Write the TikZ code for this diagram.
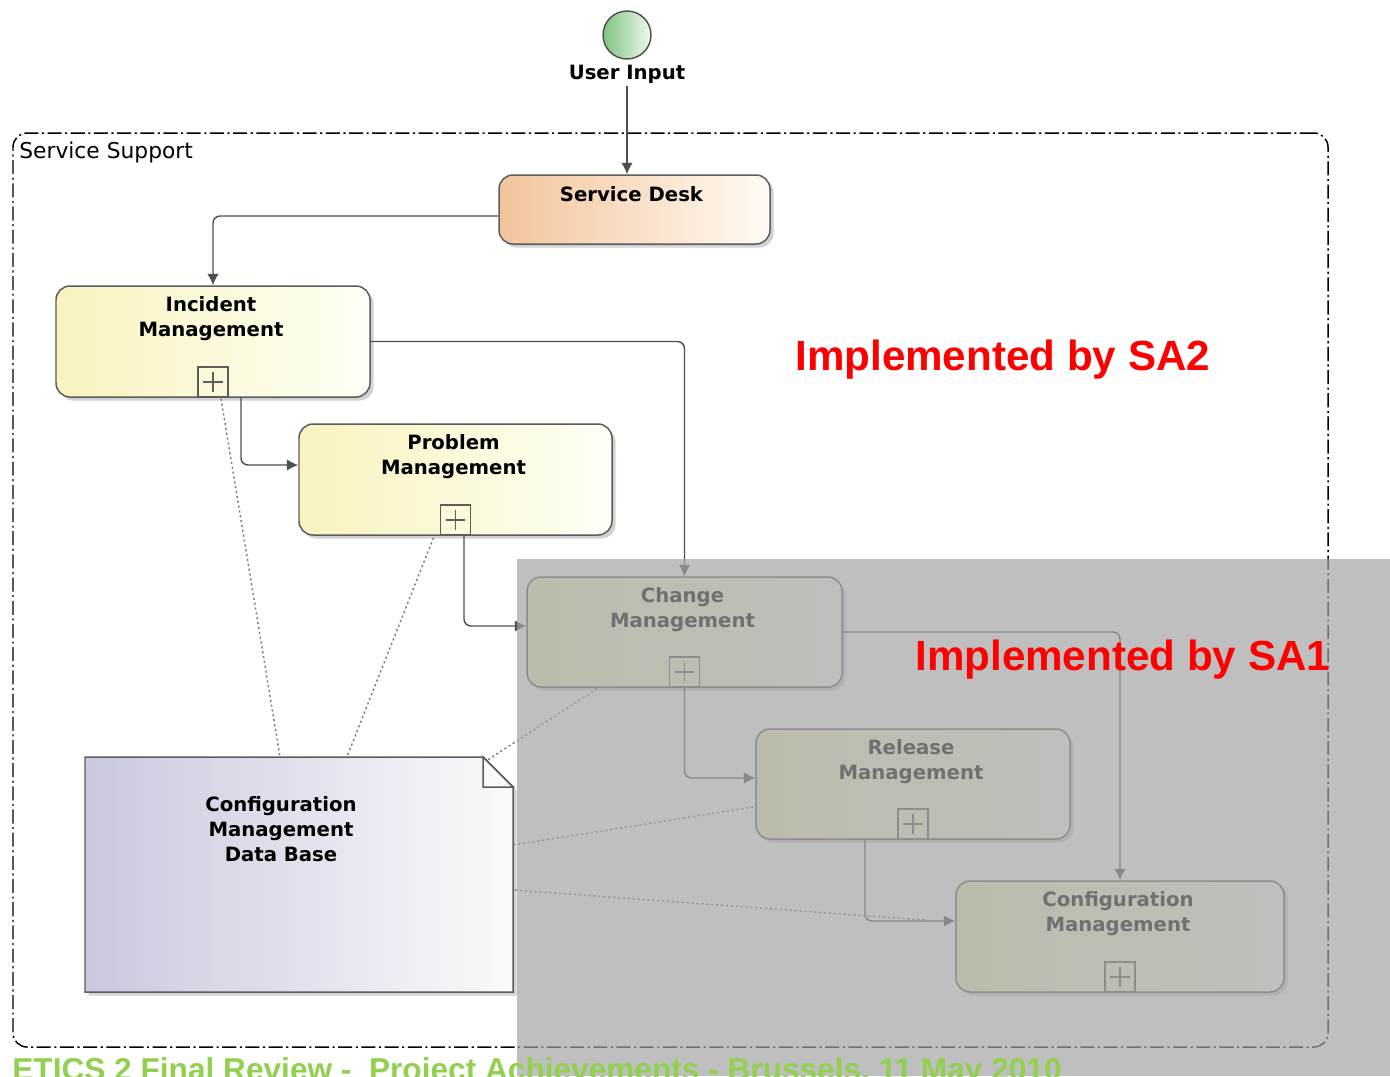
\documentclass[tikz,border=0pt]{standalone}
\usepackage{fontspec}
\setmainfont{Liberation Sans}
\newfontfamily\dejavu{DejaVu Sans}
\usetikzlibrary{fit,calc,arrows.meta,shadows}
\definecolor{linec}{HTML}{4F4F4F}
\definecolor{borderc}{HTML}{5C5C5C}
\definecolor{sdL}{HTML}{F2C49C}
\definecolor{sdR}{HTML}{FFFBF4}
\definecolor{ymL}{HTML}{F8F3BE}
\definecolor{ymR}{HTML}{FFFFF6}
\definecolor{dbL}{HTML}{C9C9DE}
\definecolor{dbR}{HTML}{FAFAFC}
\definecolor{startL}{HTML}{7FC47F}
\definecolor{startR}{HTML}{EEF8EE}
\definecolor{ovc}{RGB}{163,163,163}
\definecolor{ecgreen}{HTML}{92D050}
\definecolor{sared}{HTML}{FF0000}
\definecolor{assocc}{HTML}{7A7A7A}
\begin{document}
\begin{tikzpicture}[x=0.02cm,y=-0.02cm,
  procbox/.style={draw=borderc, line width=0.85pt, rounded corners=8pt, inner sep=0pt,
     left color=ymL, right color=ymR,
     drop shadow={shadow xshift=2pt, shadow yshift=-2pt, opacity=0.35}},
  boxtext/.style={font=\dejavu\bfseries\fontsize{11.2}{14.2}\selectfont, align=center, inner sep=0pt, anchor=north},
  plusbox/.style={draw=borderc, line width=0.8pt, minimum size=17pt, inner sep=0pt, anchor=south,
     path picture={\draw[borderc, line width=0.9pt]
        ([xshift=-5.5pt]path picture bounding box.center) -- ([xshift=5.5pt]path picture bounding box.center)
        ([yshift=-5.5pt]path picture bounding box.center) -- ([yshift=5.5pt]path picture bounding box.center);}},
  flow/.style={draw=linec, line width=0.8pt, rounded corners=4pt, -{Latex[length=6.5pt,width=6.5pt]}},
  assoc/.style={draw=assocc, line width=0.8pt, dash pattern=on 1.2pt off 1.6pt},
  redtext/.style={font=\bfseries\fontsize{24}{28}\selectfont, text=sared, inner sep=0pt, anchor=base west},
  startc/.style={circle, draw=gray!60!black, line width=0.8pt, minimum size=0.96cm, inner sep=0pt,
     left color=startL, right color=startR},
  framec/.style={draw=black, line width=0.85pt, dash pattern=on 8pt off 2pt on 1.2pt off 2pt,
     rounded corners=8pt, inner sep=0pt},
]
\useasboundingbox (0,0) rectangle (1390,1076);
\clip (0,0) rectangle (1390,1076);
\fill[white] (0,0) rectangle (1390,1076);

% frame
\node[framec, fit={(13,133) (1328,1047)}] (frame) {};
\node[font=\dejavu\fontsize{12.4}{14}\selectfont, anchor=west, inner sep=0pt] (sslabel) at (19,152) {Service Support};

% start
\node[startc] (start) at (627,35) {};
\node[font=\dejavu\bfseries\fontsize{11.2}{13}\selectfont, anchor=base, inner sep=0pt] (ui) at (627,79) {User Input};

% boxes
\node[procbox, left color=sdL, right color=sdR, fit={(499,175) (770,244)}] (sd) {};
\node[procbox, fit={(56,286) (370,397)}] (inc) {};
\node[procbox, fit={(299,424) (612,535)}] (prob) {};
\node[procbox, fit={(527,577) (842,687)}] (chg) {};
\node[procbox, fit={(756,729) (1070,839)}] (rel) {};
\node[procbox, fit={(956,881) (1284,992)}] (cfg) {};

\node[boxtext] (sd-t) at ($(sd.north)+(-3,12)$) {Service Desk};
\node[boxtext] (inc-t) at ($(inc.north)+(-2,11)$) {Incident\\Management};
\node[boxtext] (prob-t) at ($(prob.north)+(-2,11)$) {Problem\\Management};
\node[boxtext] (chg-t) at ($(chg.north)+(-2,11)$) {Change\\Management};
\node[boxtext] (rel-t) at ($(rel.north)+(-2,11)$) {Release\\Management};
\node[boxtext] (cfg-t) at ($(cfg.north)+(-2,11)$) {Configuration\\Management};

\node[plusbox] (inc-p) at (inc.south) {};
\node[plusbox] (prob-p) at (prob.south) {};
\node[plusbox] (chg-p) at (chg.south) {};
\node[plusbox] (rel-p) at (rel.south) {};
\node[plusbox] (cfg-p) at (cfg.south) {};

% CMDB note
\path[draw=borderc, line width=0.85pt, left color=dbL, right color=dbR,
      drop shadow={shadow xshift=2pt, shadow yshift=-2pt, opacity=0.35}]
  (85,757) -- (483,757) -- (513,787) -- (513,992) -- (85,992) -- cycle;
\draw[draw=borderc, line width=0.85pt, fill=white!92!dbL] (483,757) -- (483,787) -- (513,787) -- cycle;
\node[fit={(85,757) (513,992)}, inner sep=0pt] (cmdb) {};
\node[boxtext] (cmdb-t) at ($(cmdb.north)+(-18,40)$) {Configuration\\Management\\Data Base};

% flows
\draw[flow] ($(ui.south)+(0,3)$) -- (ui.south |- sd.north);
\draw[flow] ($(sd.west)+(0,6.5)$) -| (inc.north);
\draw[flow] (inc.east) -| (chg.north);
\draw[flow] ($(inc.south)+(28,0)$) |- ($(prob.west)+(0,-14.5)$);
\draw[flow] ($(prob.south)+(8.5,0)$) |- ($(chg.west)+(0,-6)$);
\draw[flow] (chg.east) -| (cfg.north);
\draw[flow] (chg.south) |- ($(rel.west)+(0,-6)$);
\draw[flow] ($(rel.south)+(-48,0)$) |- ($(cfg.west)+(0,-15.5)$);

% associations
\draw[assoc] ($(inc.south)+(8,1)$) -- ($(cmdb.north)+(-19,0)$);
\draw[assoc] ($(prob.south)+(-22,2)$) -- ($(cmdb.north)+(48,0)$);
\draw[assoc] ($(chg.south)+(-87.5,1)$) -- ($(cmdb.north)+(189,3)$);
\draw[assoc] ($(rel.west)+(-2,23)$) -- ($(cmdb.east)+(0,-29.5)$);
\draw[assoc] ($(cfg.west)+(-31,-16.5)$) -- ($(cmdb.east)+(0,15.5)$);

% overlay
\fill[ovc, opacity=0.69] (517,559) rectangle (1390,1076);

% texts on top
\node[redtext] (sa2) at (795,370) {Implemented by SA2};
\node[redtext] (sa1) at (915,670) {Implemented by SA1};
\node[font=\bfseries\fontsize{18}{22}\selectfont, text=ecgreen, anchor=base west, inner sep=0pt] (foot) at (12,1080) {ETICS 2 Final Review -\ \ Project Achievements - Brussels, 11 May 2010};
\end{tikzpicture}
\end{document}
